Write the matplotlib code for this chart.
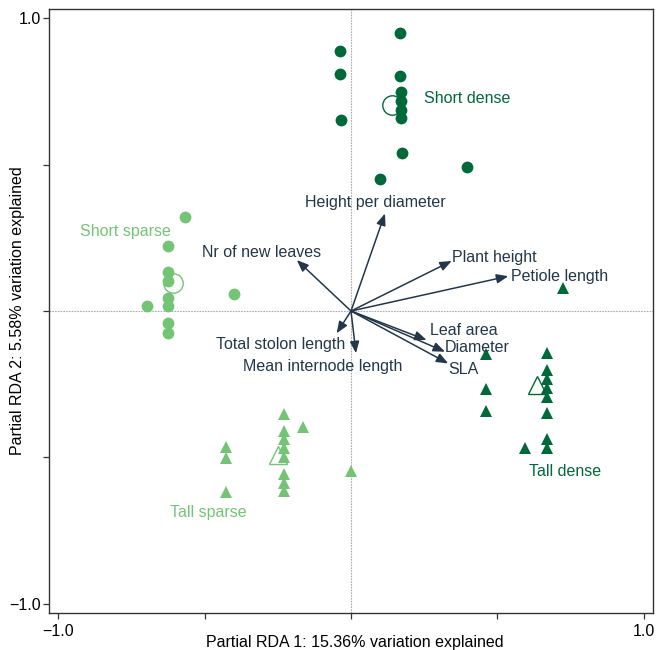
import matplotlib
matplotlib.use("Agg")
import matplotlib.pyplot as plt

plt.rcParams['font.family'] = ['Liberation Sans', 'DejaVu Sans']

# ---- data ----
short_dense_x = [0.167, -0.0375, -0.0375, -0.034, 0.167, 0.171, 0.171, 0.171, 0.171, 0.174, 0.099, 0.396]
short_dense_y = [0.950, 0.887, 0.809, 0.652, 0.803, 0.748, 0.718, 0.688, 0.658, 0.540, 0.451, 0.490]
short_dense_c = [0.139, 0.703]

short_sparse_x = [-0.566, -0.624, -0.624, -0.624, -0.624, -0.624, -0.696, -0.399, -0.624, -0.624]
short_sparse_y = [0.322, 0.222, 0.134, 0.102, 0.045, 0.017, 0.017, 0.057, -0.042, -0.074]
short_sparse_c = [-0.608, 0.095]

tall_sparse_x = [-0.228, -0.163, -0.228, -0.228, -0.228, -0.228, -0.428, -0.428, -0.428, -0.228, -0.228, -0.228, 0.0]
tall_sparse_y = [-0.352, -0.395, -0.410, -0.438, -0.469, -0.499, -0.463, -0.501, -0.619, -0.556, -0.586, -0.614, -0.546]
tall_sparse_c = [-0.248, -0.491]

tall_dense_x = [0.461, 0.668, 0.668, 0.668, 0.668, 0.668, 0.668, 0.668, 0.668, 0.595, 0.461, 0.461, 0.725]
tall_dense_y = [-0.148, -0.142, -0.201, -0.232, -0.264, -0.292, -0.349, -0.437, -0.467, -0.467, -0.266, -0.341, 0.077]
tall_dense_c = [0.634, -0.253]

traits = ["Height per diameter", "Nr of new leaves", "Plant height", "Petiole length",
          "Leaf area", "Diameter", "SLA", "Total stolon length", "Mean internode length"]
trait_x = [0.116, -0.185, 0.344, 0.537, 0.258, 0.321, 0.332, -0.049, 0.017]
trait_y = [0.333, 0.174, 0.171, 0.119, -0.099, -0.139, -0.179, -0.076, -0.144]

# label layout (data coords, alignment)
trait_label_pos = {
    "Height per diameter": (0.082, 0.369, 'center'),
    "Nr of new leaves": (-0.304, 0.201, 'center'),
    "Plant height": (0.345, 0.184, 'left'),
    "Petiole length": (0.546, 0.117, 'left'),
    "Leaf area": (0.270, -0.065, 'left'),
    "Diameter": (0.321, -0.123, 'left'),
    "SLA": (0.331, -0.201, 'left'),
    "Total stolon length": (-0.239, -0.113, 'center'),
    "Mean internode length": (-0.097, -0.188, 'center'),
}

dark = '#00693a'
light = '#74c476'
arrow_col = '#24374a'

fig = plt.figure(figsize=(6.57, 6.50), dpi=100)
ax = fig.add_axes([0.0746, 0.0569, 0.9193, 0.9292])
ax.set_xlim(-1.031, 1.031)
ax.set_ylim(-1.031, 1.031)

ax.axhline(0, color='#aaaaaa', lw=0.8, ls=(0, (1.5, 1)), zorder=0)
ax.axvline(0, color='#aaaaaa', lw=0.8, ls=(0, (1.5, 1)), zorder=0)

ms = 8.5
# centroids (drawn below points)
ax.plot(*short_dense_c, 'o', ms=14, mfc='white', mec=dark, mew=1.0, zorder=2)
ax.plot(*short_sparse_c, 'o', ms=14, mfc='white', mec=light, mew=1.0, zorder=2)
ax.plot(*tall_sparse_c, '^', ms=13, mfc='white', mec=light, mew=1.0, zorder=2)
ax.plot(*tall_dense_c, '^', ms=13, mfc='white', mec=dark, mew=1.0, zorder=2)

ax.plot(short_dense_x, short_dense_y, 'o', ms=ms, color=dark, mew=0, zorder=3)
ax.plot(short_sparse_x, short_sparse_y, 'o', ms=ms, color=light, mew=0, zorder=3)
ax.plot(tall_sparse_x, tall_sparse_y, '^', ms=ms, color=light, mew=0, zorder=3)
ax.plot(tall_dense_x, tall_dense_y, '^', ms=ms, color=dark, mew=0, zorder=3)

fs = 11.5
ax.text(0.249, 0.727, "Short dense", color=dark, fontsize=fs, ha='left', va='center')
ax.text(-0.771, 0.273, "Short sparse", color=light, fontsize=fs, ha='center', va='center')
ax.text(-0.488, -0.689, "Tall sparse", color=light, fontsize=fs, ha='center', va='center')
ax.text(0.732, -0.549, "Tall dense", color=dark, fontsize=fs, ha='center', va='center')

for name, tx, ty in zip(traits, trait_x, trait_y):
    ax.annotate("", xy=(tx, ty), xytext=(0, 0),
                arrowprops=dict(arrowstyle='-|>,head_length=0.7,head_width=0.28',
                                color=arrow_col, lw=1.1, shrinkA=0, shrinkB=0),
                zorder=4)
    lx, ly, ha = trait_label_pos[name]
    ax.text(lx, ly, name, color=arrow_col, fontsize=fs, ha=ha, va='center', zorder=5)

ax.set_xticks([-1.0, -0.5, 0, 0.5, 1.0])
ax.set_xticklabels(["\u22121.0", "", "", "", "1.0"])
ax.set_yticks([-1.0, -0.5, 0, 0.5, 1.0])
ax.set_yticklabels(["\u22121.0", "", "", "", "1.0"])
ax.tick_params(direction='out', length=4, width=0.9, labelsize=fs, color='#333333')
ax.tick_params(axis='y', pad=2)
ax.tick_params(axis='x', pad=4)
for s in ax.spines.values():
    s.set_color('#333333')
    s.set_linewidth(1.0)

fig.text(354.5 / 657, 1 - 642 / 650, "Partial RDA 1: 15.36% variation explained",
         fontsize=fs, ha='center', va='center')
fig.text(18 / 657, 1 - 310.5 / 650, "Partial RDA 2: 5.58% variation explained",
         fontsize=fs, ha='center', va='center', rotation=90)

fig.savefig("out.png", dpi=100)
